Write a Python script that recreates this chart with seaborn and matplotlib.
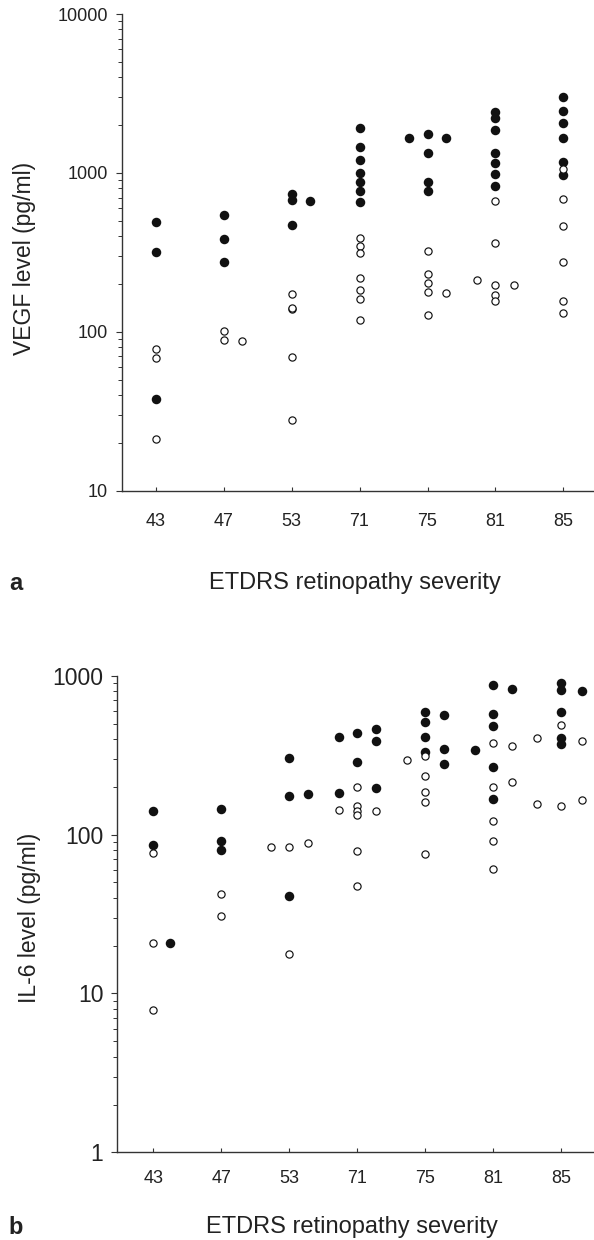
import numpy as np
import pandas as pd
import matplotlib
matplotlib.use("Agg")
import matplotlib.pyplot as plt
from matplotlib import ticker
import seaborn as sns

# ---------------- data ----------------
categories = ["43", "47", "53", "71", "75", "81", "85"]

# VEGF (panel a): category, side (-1 left of column, 0 on column, +1 right), value
vegf_filled_cat = ["43", "43", "43",
                   "47", "47", "47",
                   "53", "53", "53", "53",
                   "71", "71", "71", "71", "71", "71", "71",
                   "75", "75", "75", "75", "75", "75",
                   "81", "81", "81", "81", "81", "81", "81",
                   "85", "85", "85", "85", "85", "85"]
vegf_filled_side = [0, 0, 0,
                    0, 0, 0,
                    0, 0, 0, 1,
                    0, 0, 0, 0, 0, 0, 0,
                    0, 0, 0, 0, -1, 1,
                    0, 0, 0, 0, 0, 0, 0,
                    0, 0, 0, 0, 0, 0]
vegf_filled_val = [488, 316, 38,
                   541, 382, 273,
                   741, 676, 473, 661,
                   1919, 1449, 1212, 1004, 873, 774, 657,
                   1758, 1328, 882, 774, 1659, 1659,
                   2432, 2219, 1863, 1328, 1149, 980, 832,
                   3006, 2466, 2052, 1660, 1166, 966]

vegf_open_cat = ["43", "43", "43",
                 "47", "47", "47",
                 "53", "53", "53", "53", "53",
                 "71", "71", "71", "71", "71", "71", "71",
                 "75", "75", "75", "75", "75", "75",
                 "81", "81", "81", "81", "81", "81", "81",
                 "85", "85", "85", "85", "85", "85"]
vegf_open_side = [0, 0, 0,
                  0, 0, 1,
                  0, 0, 0, 0, 0,
                  0, 0, 0, 0, 0, 0, 0,
                  0, 0, 0, 0, 0, 1,
                  0, 0, 0, 0, 0, -1, 1,
                  0, 0, 0, 0, 0, 0]
vegf_open_val = [78, 68, 21,
                 101, 89, 87,
                 172, 139, 141, 69, 27.8,
                 388, 349, 314, 217, 182, 160, 119,
                 323, 232, 204, 179, 127, 176,
                 667, 363, 198, 171, 157, 213, 198,
                 1060, 689, 461, 273, 157, 131]

# IL-6 (panel b)
il6_filled_cat = ["43", "43", "43",
                  "47", "47", "47",
                  "53", "53", "53", "53",
                  "71", "71", "71", "71", "71", "71", "71",
                  "75", "75", "75", "75", "75", "75", "75",
                  "81", "81", "81", "81", "81", "81", "81",
                  "85", "85", "85", "85", "85", "85"]
il6_filled_side = [0, 0, 0.9,
                   0, 0, 0,
                   0, 0, 0, 1,
                   0, 0, -1, -1, 1, 1, 1,
                   0, 0, 0, 0, 1, 1, 1,
                   0, 0, 0, 0, 0, -1, 1,
                   0, 0, 0, 0, 0, 1.15]
il6_filled_val = [140, 86, 20.7,
                  145, 91, 80.5,
                  305, 175, 41, 180,
                  433, 285, 413, 183, 462, 386, 195,
                  587, 508, 413, 329, 566, 344, 280,
                  877, 574, 480, 268, 168, 343, 825,
                  904, 813, 587, 403, 370, 802]

il6_open_cat = ["43", "43", "43",
                "47", "47",
                "53", "53", "53", "53",
                "71", "71", "71", "71", "71", "71", "71", "71",
                "75", "75", "75", "75", "75", "75",
                "81", "81", "81", "81", "81", "81", "81",
                "85", "85", "85", "85", "85", "85"]
il6_open_side = [0, 0, 0,
                 0, 0,
                 0, 0, -1, 1,
                 0, 0, 0, 0, 0, 0, -1, 1,
                 0, 0, 0, 0, 0, -1,
                 0, 0, 0, 0, 0, 1, 1,
                 0, 0, -1.3, -1.3, 1.15, 1.15]
il6_open_val = [77, 20.7, 7.9,
                42.4, 30.8,
                84, 17.7, 83, 88,
                200, 152, 140, 132, 78.5, 47.7, 142, 141,
                314, 232, 184, 161, 75, 296,
                379, 198, 121, 91, 61, 359, 215,
                489, 151, 403, 156, 386, 165]

# ---------------- style ----------------
sns.set_theme(style="ticks")
plt.rcParams["font.family"] = ["Liberation Sans", "DejaVu Sans"]
INK = "#222222"
SPINE = "#333333"
SIDE_STEP = 0.27

fig = plt.figure(figsize=(5.94, 12.4), dpi=100)


def frame(cat, side, val):
    idx = {c: i for i, c in enumerate(categories)}
    return pd.DataFrame({
        "pos": [idx[c] + s * SIDE_STEP for c, s in zip(cat, side)],
        "value": val,
    })


def draw(ax, filled, opened, ylim, xlim, ytick_size, xpad):
    sns.scatterplot(data=filled, x="pos", y="value", ax=ax, s=47,
                    color="#111111", edgecolor="#111111", linewidth=0,
                    marker="o", zorder=3, legend=False)
    sns.scatterplot(data=opened, x="pos", y="value", ax=ax, s=27,
                    facecolor="white", edgecolor="#111111", linewidth=0.85,
                    marker="o", zorder=4, legend=False)
    ax.set_yscale("log")
    ax.set_ylim(*ylim)
    ax.set_xlim(*xlim)
    ax.set_xticks(range(len(categories)))
    ax.set_xticklabels(categories)
    ax.yaxis.set_major_locator(ticker.LogLocator(base=10))
    ax.yaxis.set_minor_locator(ticker.LogLocator(base=10, subs=np.arange(2, 10)))
    ax.yaxis.set_major_formatter(ticker.FuncFormatter(lambda v, p: f"{v:g}"))
    ax.yaxis.set_minor_formatter(ticker.NullFormatter())
    for side in ("top", "right"):
        ax.spines[side].set_visible(False)
    for side in ("left", "bottom"):
        ax.spines[side].set_color(SPINE)
        ax.spines[side].set_linewidth(1.0)
    ax.tick_params(axis="x", direction="in", length=3, width=0.8, color=SPINE,
                   labelsize=13, labelcolor=INK, pad=xpad)
    ax.tick_params(axis="y", which="major", direction="out", length=4, width=0.8,
                   color=SPINE, labelsize=ytick_size, labelcolor=INK, pad=6)
    ax.tick_params(axis="y", which="minor", direction="out", length=3, width=0.7,
                   color=SPINE)
    ax.set_xlabel("")
    ax.set_ylabel("")
    ax.set_facecolor("white")


ax_a = fig.add_axes([0.2049, 0.6043, 0.7951, 0.3844])
draw(ax_a, frame(vegf_filled_cat, vegf_filled_side, vegf_filled_val),
     frame(vegf_open_cat, vegf_open_side, vegf_open_val),
     (10, 10000), (-0.5, 6.45), 13, 16)

ax_b = fig.add_axes([0.1975, 0.0707, 0.8025, 0.3844])
draw(ax_b, frame(il6_filled_cat, il6_filled_side, il6_filled_val),
     frame(il6_open_cat, il6_open_side, il6_open_val),
     (1, 1000), (-0.53, 6.48), 16.5, 13)

W, H = 594, 1240


def ftext(x, y, s, **kw):
    fig.text(x / W, 1 - y / H, s, color=INK, **kw)


ftext(25, 258, "VEGF level (pg/ml)", rotation=90, ha="center", va="center", fontsize=16.5)
ftext(30, 918, "IL-6 level (pg/ml)", rotation=90, ha="center", va="center", fontsize=16.5)
ftext(355, 583, "ETDRS retinopathy severity", ha="center", va="center", fontsize=17)
ftext(352, 1227, "ETDRS retinopathy severity", ha="center", va="center", fontsize=17)
ftext(16, 583, "a", ha="center", va="center", fontsize=17, fontweight="bold")
ftext(16, 1227, "b", ha="center", va="center", fontsize=17, fontweight="bold")

fig.savefig("out.png", dpi=100, facecolor="white")
